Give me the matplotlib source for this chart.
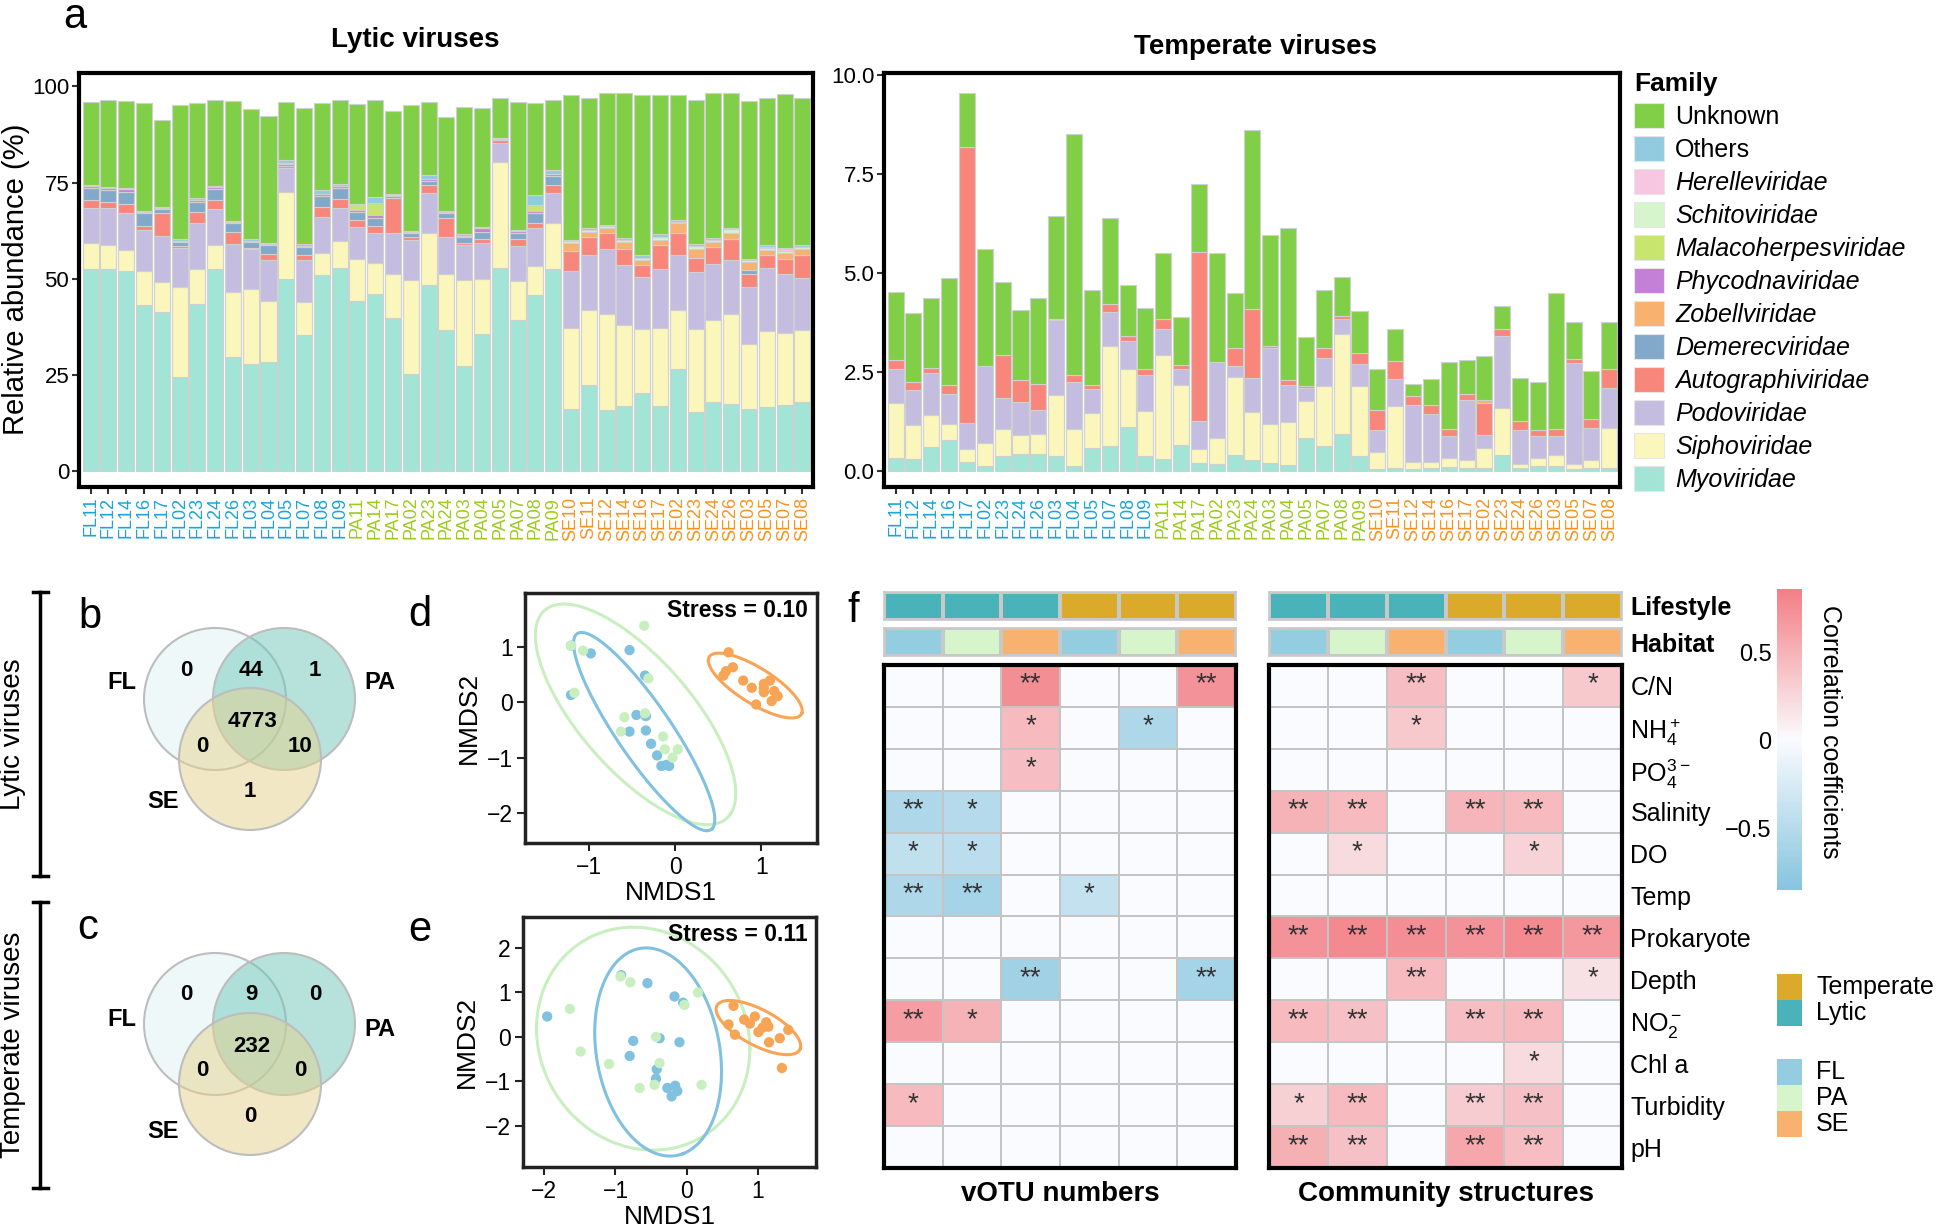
import numpy as np
import matplotlib
matplotlib.use('Agg')
import matplotlib.pyplot as plt
from matplotlib.patches import Patch, Circle, Rectangle
from matplotlib.colors import LinearSegmentedColormap, Normalize, ListedColormap, to_rgba
from matplotlib.cm import ScalarMappable

plt.rcParams['font.family'] = ['Liberation Sans', 'DejaVu Sans']
plt.rcParams['mathtext.fontset'] = 'custom'
plt.rcParams['mathtext.rm'] = 'Liberation Sans'
plt.rcParams['mathtext.it'] = 'Liberation Sans:italic'
plt.rcParams['mathtext.bf'] = 'Liberation Sans:bold'

# ---------------- panel a: samples and family abundances ----------------
samples = ['FL11', 'FL12', 'FL14', 'FL16', 'FL17', 'FL02', 'FL23', 'FL24', 'FL26', 'FL03', 'FL04',
           'FL05', 'FL07', 'FL08', 'FL09', 'PA11', 'PA14', 'PA17', 'PA02', 'PA23', 'PA24', 'PA03',
           'PA04', 'PA05', 'PA07', 'PA08', 'PA09', 'SE10', 'SE11', 'SE12', 'SE14', 'SE16', 'SE17',
           'SE02', 'SE23', 'SE24', 'SE26', 'SE03', 'SE05', 'SE07', 'SE08']

# lytic viruses (%)
lytic_myo = [52.6, 52.4, 52.0, 43.1, 41.2, 24.5, 43.5, 52.5, 29.5, 27.9, 28.4, 50.0, 35.3, 50.9, 52.9,
             44.1, 45.9, 39.8, 25.3, 48.3, 36.6, 27.2, 35.7, 52.9, 39.2, 45.7, 52.6,
             16.2, 22.3, 15.8, 16.8, 20.3, 16.8, 26.6, 15.4, 18.0, 17.5, 16.2, 16.7, 17.1, 18.0]
lytic_sipho = [6.8, 6.3, 5.4, 8.9, 7.8, 23.2, 9.1, 6.2, 17.1, 19.5, 15.8, 22.6, 8.7, 5.8, 6.9,
               11.1, 8.2, 11.5, 24.3, 13.6, 14.7, 22.4, 14.3, 27.5, 10.2, 7.6, 11.8,
               21.0, 19.5, 25.0, 21.1, 16.7, 20.4, 15.2, 21.6, 21.2, 23.4, 16.9, 19.6, 18.8, 18.6]
lytic_podo = [9.1, 9.6, 9.6, 10.6, 12.1, 10.3, 11.8, 9.4, 12.5, 10.2, 10.6, 6.2, 10.8, 9.4, 8.6,
              8.3, 7.9, 10.7, 10.4, 10.4, 9.6, 9.1, 9.2, 4.9, 9.1, 9.8, 8.0,
              14.8, 14.3, 16.9, 15.6, 13.5, 15.4, 14.3, 14.8, 14.6, 13.9, 14.6, 16.5, 15.3, 13.7]
lytic_auto = [1.9, 1.7, 2.4, 1.1, 6.1, 0.5, 3.0, 2.3, 3.1, 0.5, 1.5, 0.5, 1.3, 2.6, 2.2,
              1.7, 1.7, 8.9, 0.9, 2.0, 4.8, 0.6, 1.1, 0.7, 1.8, 1.5, 1.9,
              5.2, 4.8, 4.1, 4.3, 3.0, 6.1, 5.7, 3.7, 4.5, 5.4, 3.6, 3.3, 3.9, 5.8]
lytic_demerec = [3.2, 3.0, 3.2, 3.3, 0.8, 1.1, 2.6, 2.9, 2.3, 1.5, 2.4, 0.5, 2.2, 2.8, 3.0,
                 2.2, 2.0, 0.5, 0.9, 1.2, 1.3, 1.6, 1.9, 0.0, 1.6, 2.4, 2.4,
                 0.0, 0.0, 0.0, 0.0, 0.0, 0.0, 0.0, 0.0, 0.0, 0.0, 0.9, 0.0, 0.0, 0.0]
lytic_zobell = [0.0, 0.0, 0.0, 0.0, 0.0, 0.0, 0.0, 0.0, 0.0, 0.0, 0.0, 0.0, 0.0, 0.0, 0.0,
                0.0, 0.0, 0.0, 0.0, 0.0, 0.0, 0.0, 0.0, 0.0, 0.0, 0.0, 0.0,
                2.1, 1.3, 1.4, 1.8, 1.3, 1.3, 2.6, 2.3, 1.3, 1.6, 2.2, 1.3, 1.6, 1.7]
lytic_phyco = [0.4, 0.5, 0.6, 0.3, 0.3, 0.3, 0.5, 0.5, 0.3, 0.3, 0.4, 0.3, 0.3, 0.5, 0.6,
               0.5, 0.8, 0.3, 0.3, 0.5, 0.3, 0.3, 0.9, 0.3, 0.4, 0.5, 0.5,
               0.0, 0.0, 0.0, 0.0, 0.0, 0.0, 0.0, 0.0, 0.0, 0.0, 0.0, 0.0, 0.0, 0.0]
lytic_malaco = [0.0, 0.0, 0.0, 0.0, 0.0, 0.0, 0.0, 0.0, 0.0, 0.0, 0.0, 0.0, 0.0, 0.0, 0.0,
                1.3, 3.1, 0.0, 0.0, 0.0, 0.0, 0.0, 0.0, 0.0, 0.0, 1.6, 0.0,
                0.0, 0.0, 0.0, 0.0, 0.0, 0.0, 0.0, 0.0, 0.0, 0.0, 0.0, 0.0, 0.0, 0.0]
lytic_schito = [0.0, 0.0, 0.0, 0.0, 0.0, 0.0, 0.0, 0.0, 0.0, 0.0, 0.0, 0.0, 0.0, 0.0, 0.0,
                0.0, 0.0, 0.0, 0.0, 0.0, 0.0, 0.0, 0.0, 0.0, 0.0, 0.0, 0.0,
                0.4, 0.5, 0.4, 0.5, 0.7, 0.9, 0.4, 0.7, 0.5, 1.0, 0.4, 0.5, 0.6, 0.5]
lytic_herelle = [0.0, 0.0, 0.0, 0.0, 0.0, 0.0, 0.0, 0.0, 0.0, 0.0, 0.0, 0.0, 0.0, 0.0, 0.0,
                 0.0, 0.0, 0.0, 0.0, 0.0, 0.0, 0.0, 0.0, 0.0, 0.0, 0.0, 0.0,
                 0.0, 0.0, 0.0, 0.0, 0.0, 0.0, 0.0, 0.0, 0.0, 0.0, 0.0, 0.3, 0.3, 0.0]
lytic_others = [0.3, 0.4, 0.4, 0.4, 0.4, 0.3, 0.5, 0.3, 0.3, 0.3, 0.3, 0.7, 0.3, 1.0, 0.4,
                0.3, 1.7, 0.3, 0.3, 0.9, 0.3, 0.3, 0.3, 0.4, 0.3, 2.6, 1.0,
                0.3, 0.4, 0.3, 0.4, 0.6, 0.7, 0.4, 0.5, 0.4, 0.3, 0.4, 0.5, 0.3, 0.4]
lytic_unknown = [21.7, 22.7, 22.7, 28.0, 22.5, 34.9, 24.8, 22.3, 31.1, 34.0, 32.9, 15.2, 35.4, 22.8, 21.8,
                 25.9, 25.3, 21.6, 32.9, 19.1, 24.5, 33.2, 31.1, 10.4, 33.4, 24.1, 18.2,
                 37.9, 34.0, 34.3, 37.7, 41.6, 36.1, 32.5, 37.4, 37.7, 35.3, 41.0, 38.2, 40.1, 38.2]

# temperate viruses (%)
temp_myo = [0.34, 0.31, 0.61, 0.78, 0.23, 0.14, 0.37, 0.44, 0.44, 0.38, 0.12, 0.59, 0.63, 1.11, 0.39,
            0.31, 0.65, 0.21, 0.17, 0.40, 0.27, 0.21, 0.16, 0.83, 0.63, 0.94, 0.37,
            0.06, 0.08, 0.06, 0.08, 0.10, 0.08, 0.08, 0.41, 0.08, 0.13, 0.12, 0.06, 0.08, 0.08]
temp_sipho = [1.38, 0.86, 0.81, 0.40, 0.32, 0.57, 0.70, 0.48, 0.50, 1.53, 0.95, 0.88, 2.53, 1.48, 1.14,
              2.61, 1.53, 0.35, 0.66, 1.98, 1.22, 0.97, 1.08, 0.93, 1.52, 2.53, 1.77,
              0.42, 1.56, 0.17, 0.16, 0.23, 0.19, 0.50, 1.18, 0.11, 0.20, 0.29, 0.13, 0.21, 1.02]
temp_podo = [0.85, 0.89, 1.06, 0.77, 0.66, 1.94, 0.78, 0.82, 0.61, 1.90, 1.18, 0.61, 0.86, 0.69, 0.89,
             0.66, 0.39, 0.70, 1.92, 0.27, 0.87, 1.94, 0.93, 0.34, 0.71, 0.36, 0.56,
             0.55, 0.69, 1.45, 1.21, 0.55, 1.53, 0.34, 1.82, 0.84, 0.55, 0.47, 2.54, 0.81, 1.00]
temp_auto = [0.23, 0.19, 0.13, 0.23, 6.98, 0.00, 1.07, 0.57, 0.64, 0.04, 0.18, 0.09, 0.21, 0.12, 0.17,
             0.25, 0.10, 4.26, 0.00, 0.47, 1.74, 0.04, 0.14, 0.05, 0.26, 0.09, 0.27,
             0.52, 0.45, 0.22, 0.23, 0.19, 0.15, 0.80, 0.19, 0.23, 0.15, 0.19, 0.09, 0.21, 0.49]
temp_zobell = [0.0, 0.0, 0.0, 0.0, 0.0, 0.0, 0.0, 0.0, 0.0, 0.0, 0.0, 0.0, 0.0, 0.0, 0.0,
               0.0, 0.0, 0.0, 0.0, 0.0, 0.0, 0.0, 0.0, 0.0, 0.0, 0.0, 0.0,
               0.0, 0.0, 0.0, 0.0, 0.0, 0.0, 0.08, 0.0, 0.0, 0.0, 0.0, 0.0, 0.0, 0.0]
temp_unknown = [1.71, 1.73, 1.75, 2.70, 1.35, 2.95, 1.86, 1.77, 2.17, 2.59, 6.08, 2.40, 2.15, 1.31, 1.54,
                1.68, 1.22, 1.72, 2.76, 1.38, 4.51, 2.81, 3.84, 1.24, 1.45, 0.98, 1.07,
                1.04, 0.80, 0.31, 0.64, 1.68, 0.85, 1.10, 0.57, 1.10, 1.22, 3.43, 0.95, 1.21, 1.18]

fam_colors = {
    'Unknown': '#80CF47', 'Others': '#92CBE0', 'Herelleviridae': '#F7C7E1',
    'Schitoviridae': '#D7F5CD', 'Malacoherpesviridae': '#C8E56E', 'Phycodnaviridae': '#C47FD6',
    'Zobellviridae': '#F9B16F', 'Demerecviridae': '#82A9C9', 'Autographiviridae': '#F8867B',
    'Podoviridae': '#C4BDE0', 'Siphoviridae': '#FBF6BB', 'Myoviridae': '#A2E4D6',
}
group_colors = {'FL': '#19A4DB', 'PA': '#9BCB1B', 'SE': '#F7931E'}

lytic_stack = [('Myoviridae', lytic_myo), ('Siphoviridae', lytic_sipho), ('Podoviridae', lytic_podo),
               ('Autographiviridae', lytic_auto), ('Demerecviridae', lytic_demerec),
               ('Zobellviridae', lytic_zobell), ('Phycodnaviridae', lytic_phyco),
               ('Malacoherpesviridae', lytic_malaco), ('Schitoviridae', lytic_schito),
               ('Herelleviridae', lytic_herelle), ('Others', lytic_others), ('Unknown', lytic_unknown)]
temp_stack = [('Myoviridae', temp_myo), ('Siphoviridae', temp_sipho), ('Podoviridae', temp_podo),
              ('Autographiviridae', temp_auto), ('Zobellviridae', temp_zobell), ('Unknown', temp_unknown)]

# ---------------- panels b, c: Venn counts ----------------
venn_b_counts = [0, 44, 1, 4773, 0, 10, 1]   # FL, FL&PA, PA, all, FL&SE, PA&SE, SE
venn_c_counts = [0, 9, 0, 232, 0, 0, 0]

# ---------------- panels d, e: NMDS ----------------
d_fl_x = [-1.21, -1.21, -0.98, -0.53, -0.35, -0.45, -0.34, -0.53, -0.34, -0.28, -0.21, -0.16, -0.10, -0.07]
d_fl_y = [0.13, 1.02, 0.88, 0.94, 0.48, -0.23, -0.25, -0.53, -0.51, -0.75, -0.96, -1.15, -1.13, -1.15]
d_pa_x = [-1.21, -1.07, -1.17, -0.36, -0.31, -0.59, -0.35, -0.63, -0.14, -0.12, -0.03, 0.03]
d_pa_y = [1.02, 0.93, 0.17, 1.38, 0.43, -0.27, -0.20, -0.53, -0.62, -0.85, -1.00, -0.85]
d_se_x = [0.62, 0.67, 0.59, 0.56, 0.79, 0.89, 1.03, 1.10, 1.03, 1.15, 1.19, 1.12, 0.94, 1.03]
d_se_y = [0.90, 0.63, 0.56, 0.48, 0.39, 0.26, 0.33, 0.39, 0.18, 0.20, 0.11, 0.02, -0.04, 0.26]

e_fl_x = [-1.96, -0.92, -0.55, -0.17, -0.05, -0.75, -0.80, -0.38, -0.10, -0.42, -0.43, -0.27, -0.16, -0.13, -0.21]
e_fl_y = [0.46, 1.39, 1.21, 0.91, 0.77, -0.09, -0.43, -0.03, -0.12, -0.73, -0.94, -1.15, -1.10, -1.22, -1.34]
e_pa_x = [-1.64, -1.49, -1.09, -0.93, -0.79, -0.66, -0.43, -0.38, -0.45, -0.03, 0.16, 0.21]
e_pa_y = [0.63, -0.33, -0.61, 1.36, 1.23, -1.15, 0.00, -0.59, -1.08, 0.72, 1.00, -1.08]
e_se_x = [0.66, 0.59, 0.68, 0.81, 0.89, 0.96, 1.01, 1.07, 1.12, 1.15, 1.16, 1.31, 1.43, 1.34]
e_se_y = [0.70, 0.28, 0.05, 0.39, 0.30, 0.46, 0.11, 0.21, 0.33, 0.23, -0.12, -0.03, 0.16, -0.70]

# ellipses: centre, first and second semi-axis vectors (data units)
d_ellipses = {'PA': ((-0.46, -0.22), (1.10, -1.80), (0.38, 0.85)),
              'FL': ((-0.36, -0.53), (0.79, -1.75), (0.22, 0.37)),
              'SE': ((0.93, 0.30), (0.54, -0.50), (0.075, 0.305))}
e_ellipses = {'PA': ((-0.61, -0.04), (1.50, -0.23), (0.0, 2.50)),
              'FL': ((-0.40, -0.34), (0.35, -2.29), (0.82, 0.50)),
              'SE': ((1.01, 0.21), (0.59, -0.47), (0.078, 0.39))}
stress_d = 0.10
stress_e = 0.11

# ---------------- panel f: correlation heatmaps ----------------
env_vars = ['C/N', 'NH$_4^+$', 'PO$_4^{3-}$', 'Salinity', 'DO', 'Temp', 'Prokaryote', 'Depth',
            'NO$_2^-$', 'Chl a', 'Turbidity', 'pH']
col_lifestyle = ['Lytic', 'Lytic', 'Lytic', 'Temperate', 'Temperate', 'Temperate']
col_habitat = ['FL', 'PA', 'SE', 'FL', 'PA', 'SE']

votu_r = [[0, 0, 0.75, 0, 0, 0.72],
          [0, 0, 0.45, 0, -0.55, 0],
          [0, 0, 0.42, 0, 0, 0],
          [-0.55, -0.50, 0, 0, 0, 0],
          [-0.42, -0.45, 0, 0, 0, 0],
          [-0.55, -0.62, 0, -0.40, 0, 0],
          [0, 0, 0, 0, 0, 0],
          [0, 0, -0.65, 0, 0, -0.62],
          [0.65, 0.50, 0, 0, 0, 0],
          [0, 0, 0, 0, 0, 0],
          [0.45, 0, 0, 0, 0, 0],
          [0, 0, 0, 0, 0, 0]]
votu_sig = [['', '', '**', '', '', '**'],
            ['', '', '*', '', '*', ''],
            ['', '', '*', '', '', ''],
            ['**', '*', '', '', '', ''],
            ['*', '*', '', '', '', ''],
            ['**', '**', '', '*', '', ''],
            ['', '', '', '', '', ''],
            ['', '', '**', '', '', '**'],
            ['**', '*', '', '', '', ''],
            ['', '', '', '', '', ''],
            ['*', '', '', '', '', ''],
            ['', '', '', '', '', '']]
comm_r = [[0, 0, 0.42, 0, 0, 0.35],
          [0, 0, 0.35, 0, 0, 0],
          [0, 0, 0, 0, 0, 0],
          [0.50, 0.45, 0, 0.48, 0.45, 0],
          [0, 0.22, 0, 0, 0.28, 0],
          [0, 0, 0, 0, 0, 0],
          [0.72, 0.78, 0.75, 0.72, 0.78, 0.68],
          [0, 0, 0.45, 0, 0, 0.18],
          [0.45, 0.40, 0, 0.42, 0.45, 0],
          [0, 0, 0, 0, 0.22, 0],
          [0.30, 0.45, 0, 0.33, 0.40, 0],
          [0.52, 0.40, 0, 0.58, 0.42, 0]]
comm_sig = [['', '', '**', '', '', '*'],
            ['', '', '*', '', '', ''],
            ['', '', '', '', '', ''],
            ['**', '**', '', '**', '**', ''],
            ['', '*', '', '', '*', ''],
            ['', '', '', '', '', ''],
            ['**', '**', '**', '**', '**', '**'],
            ['', '', '**', '', '', '*'],
            ['**', '**', '', '**', '**', ''],
            ['', '', '', '', '*', ''],
            ['*', '**', '', '**', '**', ''],
            ['**', '**', '', '**', '**', '']]

lifestyle_colors = {'Lytic': '#4AB3B9', 'Temperate': '#DBAA2B'}
habitat_colors = {'FL': '#94CCE0', 'PA': '#D6F5CB', 'SE': '#F9B16F'}
nmds_colors = {'FL': '#80C1E0', 'PA': '#C9EFC1', 'SE': '#F8A455'}

# ====================================================================
W, H = 1944, 1226
fig = plt.figure(figsize=(W / 100, H / 100), dpi=100)


def px_axes(left, top, right, bottom):
    return fig.add_axes([left / W, 1 - bottom / H, (right - left) / W, (bottom - top) / H])


def stacked_bars(ax, stack, ylim, yticks, yticklabels):
    x = np.arange(len(samples))
    bottom = np.zeros(len(samples))
    for name, vals in stack:
        vals = np.asarray(vals, dtype=float)
        ax.bar(x, vals, bottom=bottom, width=0.9, color=fam_colors[name],
               edgecolor='#D0D0D0', linewidth=0.8)
        bottom += vals
    ax.set_xlim(-0.65, len(samples) - 0.4)
    ax.set_ylim(*ylim)
    ax.set_xticks(x)
    ax.set_xticklabels(samples, rotation=90, fontsize=13)
    for lab, s in zip(ax.get_xticklabels(), samples):
        lab.set_color(group_colors[s[:2]])
    ax.set_yticks(yticks)
    ax.set_yticklabels(yticklabels, fontsize=16)
    for sp in ax.spines.values():
        sp.set_linewidth(3)
        sp.set_color('black')
    ax.tick_params(axis='both', length=5, width=1.5, color='#333333', pad=2)


ax_ly = px_axes(79, 73, 813, 487)
stacked_bars(ax_ly, lytic_stack, (-4.2, 103.5), [0, 25, 50, 75, 100], ['0', '25', '50', '75', '100'])
ax_tp = px_axes(884, 73, 1620, 487)
stacked_bars(ax_tp, temp_stack, (-0.40, 10.05), [0, 2.5, 5, 7.5, 10], ['0.0', '2.5', '5.0', '7.5', '10.0'])

fig.text(415 / W, 1 - 40 / H, 'Lytic viruses', ha='center', va='center', fontsize=20, fontweight='bold')
fig.text(1255 / W, 1 - 47 / H, 'Temperate viruses', ha='center', va='center', fontsize=20,
         fontweight='bold')
fig.text(16 / W, 1 - 279 / H, 'Relative abundance (%)', rotation=90, ha='center', va='center', fontsize=21)

legend_order = ['Unknown', 'Others', 'Herelleviridae', 'Schitoviridae', 'Malacoherpesviridae',
                'Phycodnaviridae', 'Zobellviridae', 'Demerecviridae', 'Autographiviridae',
                'Podoviridae', 'Siphoviridae', 'Myoviridae']
handles = [Patch(facecolor=fam_colors[f], edgecolor='#E6E6E6', linewidth=0.8) for f in legend_order]
leg = fig.legend(handles, legend_order, loc='upper left', bbox_to_anchor=(1634 / W, 1 - 72 / H),
                 frameon=False, fontsize=18, title='Family',
                 title_fontproperties={'weight': 'bold', 'size': 19},
                 handlelength=1.2, handleheight=1.2, labelspacing=0.27, handletextpad=0.45,
                 borderaxespad=0, borderpad=0, alignment='left')
for t in leg.get_texts():
    if t.get_text() not in ('Unknown', 'Others'):
        t.set_style('italic')

# ---------------- Venn diagrams ----------------
venn_circles = {'FL': (-35, -21), 'PA': (34, -21), 'SE': (0, 39)}
venn_fill = {'FL': '#DFF3F5', 'PA': '#6FC7B9', 'SE': '#E5D18D'}
venn_count_pos = [(-64, -50), (1, -50), (65, -50), (2, 1), (-48, 26), (50, 26), (0, 71)]


def venn(ax, counts, label_pos):
    ax.set_xlim(-160, 170)
    ax.set_ylim(160, -120)
    ax.axis('off')
    for k in ['FL', 'PA', 'SE']:
        ax.add_patch(Circle(venn_circles[k], 71, facecolor=to_rgba(venn_fill[k], 0.5),
                            edgecolor='#BDBDBD', linewidth=1.5))
    for (x, y), c in zip(venn_count_pos, counts):
        ax.text(x, y, str(c), ha='center', va='center', fontsize=16, fontweight='bold')
    for k, (x, y) in label_pos.items():
        ax.text(x, y, k, ha='center', va='center', fontsize=17, fontweight='bold')


venn(px_axes(90, 600, 420, 880), venn_b_counts, {'FL': (-128, -38), 'PA': (130, -38), 'SE': (-87, 81)})
venn(px_axes(90, 925, 420, 1205), venn_c_counts, {'FL': (-128, -25), 'PA': (130, -15), 'SE': (-87, 87)})

fig.text(13 / W, 1 - 734 / H, 'Lytic viruses', rotation=90, ha='center', va='center', fontsize=20)
fig.text(13 / W, 1 - 1045 / H, 'Temperate viruses', rotation=90, ha='center', va='center', fontsize=20)

# ---------------- NMDS ----------------
t = np.linspace(0, 2 * np.pi, 300)


def nmds(ax, pts, ellipses, xlim, ylim, xticks, yticks, stress):
    for k in ['PA', 'FL', 'SE']:
        (cx, cy), (ax1, ay1), (ax2, ay2) = ellipses[k]
        ax.plot(cx + ax1 * np.cos(t) + ax2 * np.sin(t), cy + ay1 * np.cos(t) + ay2 * np.sin(t),
                color=nmds_colors[k], lw=2.2, zorder=2)
    for k, (xs, ys) in pts.items():
        ax.scatter(xs, ys, s=55, color=nmds_colors[k], edgecolor='none', zorder=3)
    ax.set_xlim(*xlim)
    ax.set_ylim(*ylim)
    ax.set_xticks(xticks)
    ax.set_yticks(yticks)
    ax.set_xticklabels([str(v).replace('-', '\u2212') for v in xticks], fontsize=16.5)
    ax.set_yticklabels([str(v).replace('-', '\u2212') for v in yticks], fontsize=16.5)
    ax.set_xlabel('NMDS1', fontsize=19, labelpad=2)
    ax.set_ylabel('NMDS2', fontsize=19, labelpad=4)
    for sp in ax.spines.values():
        sp.set_linewidth(2.5)
        sp.set_color('#222222')
    ax.tick_params(length=6, width=1.5, color='#222222', pad=3)
    ax.text(0.97, 0.93, 'Stress = %.2f' % stress, transform=ax.transAxes, ha='right', va='center',
            fontsize=16.5, fontweight='bold')


nmds(px_axes(525, 593, 817, 843),
     {'FL': (d_fl_x, d_fl_y), 'PA': (d_pa_x, d_pa_y), 'SE': (d_se_x, d_se_y)},
     d_ellipses, (-1.744, 1.647), (-2.54, 1.97), [-1, 0, 1], [-2, -1, 0, 1], stress_d)
nmds(px_axes(523, 917, 816, 1167),
     {'FL': (e_fl_x, e_fl_y), 'PA': (e_pa_x, e_pa_y), 'SE': (e_se_x, e_se_y)},
     e_ellipses, (-2.30, 1.82), (-2.93, 2.70), [-2, -1, 0, 1], [-2, -1, 0, 1, 2], stress_e)

# ---------------- heatmaps ----------------
cmap = LinearSegmentedColormap.from_list('corr', ['#86C4DE', '#FAFBFE', '#F27F85'])
norm = Normalize(vmin=-0.85, vmax=0.86)
strip_cmap = ListedColormap([lifestyle_colors['Lytic'], lifestyle_colors['Temperate'],
                             habitat_colors['FL'], habitat_colors['PA'], habitat_colors['SE']])
strip_code = {'Lytic': 0, 'Temperate': 1, 'FL': 2, 'PA': 3, 'SE': 4}


def strip(ax, values):
    ax.pcolormesh([[strip_code[v] for v in values]], cmap=strip_cmap, vmin=-0.5, vmax=4.5,
                  edgecolors='#C8C8C8', linewidth=1.5)
    ax.set_xticks([])
    ax.set_yticks([])
    for sp in ax.spines.values():
        sp.set_color('#C8C8C8')
        sp.set_linewidth(1.2)


def heat(left, right, r, sig, title, with_labels):
    a1 = px_axes(left, 592, right, 620)
    strip(a1, col_lifestyle)
    a2 = px_axes(left, 628, right, 656)
    strip(a2, col_habitat)
    ax = px_axes(left, 665, right, 1168)
    ax.pcolormesh(np.array(r, dtype=float), cmap=cmap, norm=norm, edgecolors='#C4C4C4', linewidth=1.2)
    ax.set_xlim(0, 6)
    ax.set_ylim(12, 0)
    for i, row in enumerate(sig):
        for j, s in enumerate(row):
            if s:
                ax.text(j + 0.5, i + 0.47, s, ha='center', va='center', fontsize=20, color='#333333')
    for sp in ax.spines.values():
        sp.set_linewidth(3)
        sp.set_color('black')
    ax.set_xticks([])
    if with_labels:
        ax.yaxis.tick_right()
        ax.set_yticks(np.arange(12) + 0.5)
        ax.set_yticklabels(env_vars, fontsize=18)
        ax.tick_params(axis='y', length=0, pad=6)
        for a, lab in ((a1, 'Lifestyle'), (a2, 'Habitat')):
            a.yaxis.tick_right()
            a.set_yticks([0.5])
            a.set_yticklabels([lab], fontsize=18, fontweight='bold')
            a.tick_params(axis='y', length=0, pad=6)
    else:
        ax.set_yticks([])
    ax.text(0.5, -0.025, title, transform=ax.transAxes, ha='center', va='top', fontsize=20,
            fontweight='bold')


heat(884, 1236, votu_r, votu_sig, 'vOTU numbers', False)
heat(1269, 1622, comm_r, comm_sig, 'Community structures', True)

cax = px_axes(1777, 589, 1802, 890)
cb = fig.colorbar(ScalarMappable(norm=norm, cmap=cmap), cax=cax, ticks=[-0.5, 0, 0.5])
cb.outline.set_visible(False)
cax.yaxis.set_ticks_position('left')
cax.set_yticklabels(['\u22120.5', '0', '0.5'])
cax.tick_params(length=0, labelsize=17, pad=4)
fig.text(1830 / W, 1 - 732 / H, 'Correlation coefficients', rotation=270, ha='center', va='center',
         fontsize=18)

# ---------------- overlay: brackets, letters, small legends ----------------
ov = fig.add_axes([0, 0, 1, 1])
ov.set_xlim(0, W)
ov.set_ylim(H, 0)
ov.axis('off')
ov.patch.set_alpha(0)
for y0, y1 in ((592, 876), (902, 1188)):
    ov.plot([40, 40], [y0, y1], color='black', lw=2.5)
    ov.plot([33, 48], [y0, y0], color='black', lw=2.5)
    ov.plot([33, 48], [y1, y1], color='black', lw=2.5)

key_items = [('Temperate', lifestyle_colors['Temperate'], 974), ('Lytic', lifestyle_colors['Lytic'], 1000),
             ('FL', habitat_colors['FL'], 1059), ('PA', habitat_colors['PA'], 1085),
             ('SE', habitat_colors['SE'], 1111)]
for name, col, top in key_items:
    ov.add_patch(Rectangle((1777, top), 25, 26, facecolor=col, edgecolor='none'))
    ov.text(1816, top + 13, name, ha='left', va='center', fontsize=18)

for letter, x, y in (('a', 75, 17), ('b', 90, 617), ('c', 88, 928), ('d', 420, 615),
                     ('e', 420, 930), ('f', 853, 611)):
    ov.text(x, y, letter, ha='center', va='center', fontsize=30)

fig.savefig('out.png', dpi=100)
